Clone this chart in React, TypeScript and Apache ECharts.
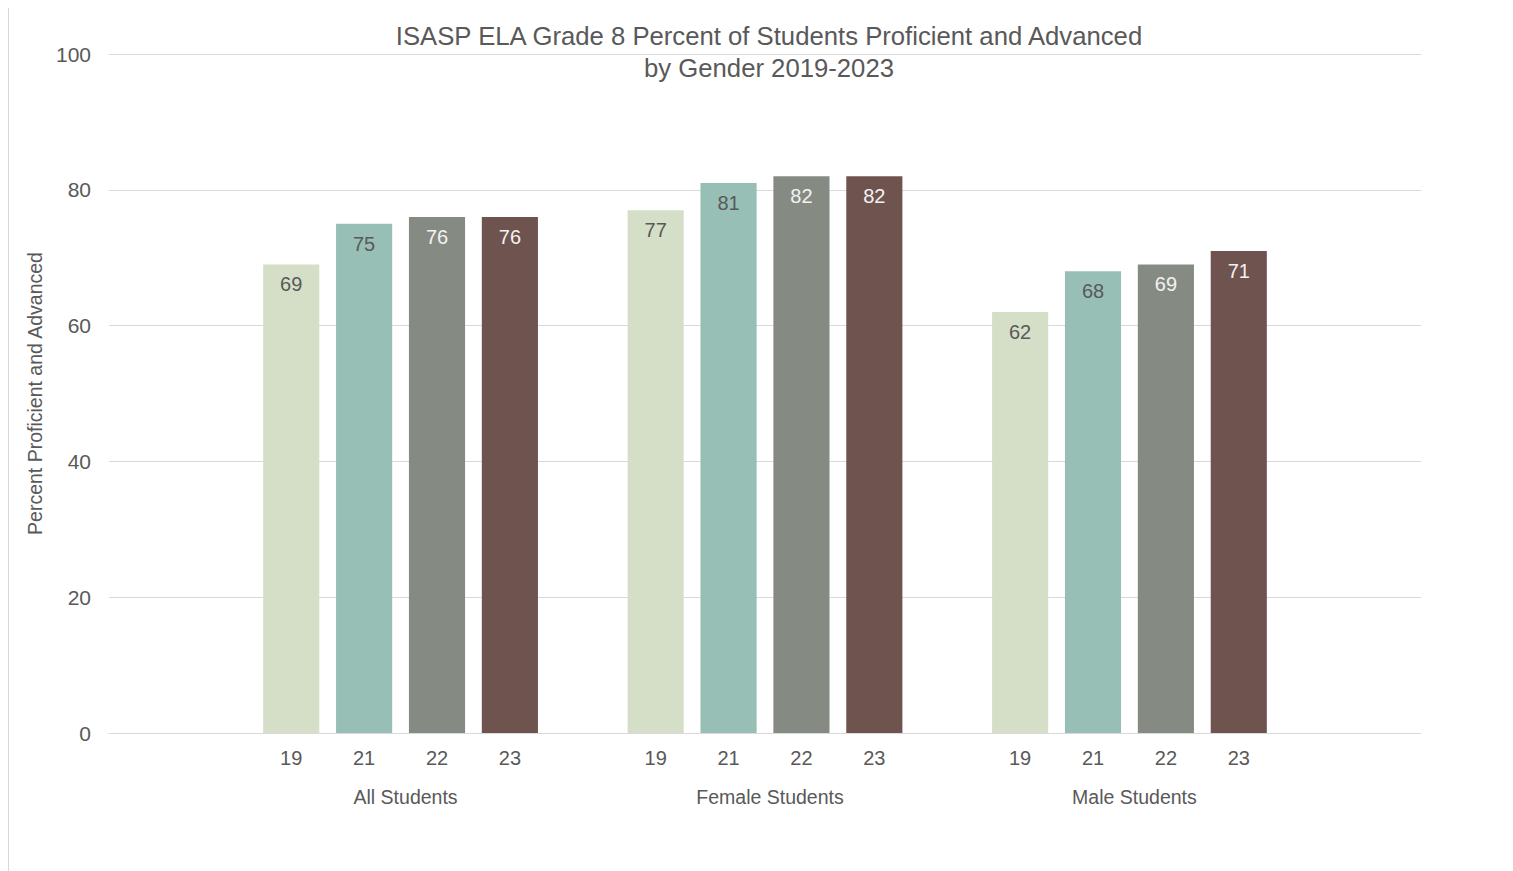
import React, { useEffect, useRef } from "react";
import * as echarts from "echarts";

const TITLE = "ISASP ELA Grade 8 Percent of Students Proficient and Advanced\nby Gender 2019-2023";
const Y_NAME = "Percent Proficient and Advanced";
const years = ["19", "21", "22", "23"];
const groups = ["All Students", "Female Students", "Male Students"];
const allStudents = [69, 75, 76, 76];
const femaleStudents = [77, 81, 82, 82];
const maleStudents = [62, 68, 69, 71];
const yTicks = [0, 20, 40, 60, 80, 100];

const barColors = ["#D5DFC7", "#97BFB5", "#858B83", "#6F534E"];
const labelColors = ["#595959", "#595959", "#F2F2F2", "#F2F2F2"];
const FONT = "'Liberation Sans', Arial, sans-serif";
const TEXT = "#595959";

export default function App() {
  const ref = useRef<HTMLDivElement>(null);
  useEffect(() => {
    document.body.style.overflow = "hidden";
    const chart = echarts.init(ref.current!, null, { renderer: "svg" });
    const seriesByGroup = [allStudents, femaleStudents, maleStudents];
    // Build 18 slots: 2 blank, 4 bars, 1 blank, 4 bars, 1 blank, 4 bars, 2 blank
    const cats: string[] = [];
    const data: any[] = [];
    const groupCenters: Record<number, string> = {};
    const pushBlank = () => {
      cats.push("");
      data.push(null);
    };
    pushBlank();
    pushBlank();
    seriesByGroup.forEach((vals, gi) => {
      if (gi > 0) pushBlank();
      const start = cats.length;
      vals.forEach((v, i) => {
        cats.push(years[i]);
        data.push({
          value: v,
          itemStyle: { color: barColors[i] },
          label: { color: labelColors[i] },
        });
      });
      groupCenters[start + vals.length / 2] = groups[gi];
    });
    pushBlank();
    pushBlank();
    const nSlots = cats.length;

    chart.setOption({
      animation: false,
      backgroundColor: "#ffffff",
      title: {
        text: TITLE,
        left: 755,
        textAlign: "center",
        top: 7,
        textStyle: {
          fontFamily: FONT,
          fontSize: 25.7,
          fontWeight: "normal",
          color: TEXT,
          lineHeight: 32,
        },
      },
      grid: { left: 100, top: 46, width: 1312, height: 679, containLabel: false },
      xAxis: [
        {
          type: "category",
          data: cats,
          axisLine: { show: true, lineStyle: { color: "#D9D9D9", width: 1 } },
          axisTick: { show: false },
          axisLabel: {
            interval: 0,
            margin: 15,
            fontFamily: FONT,
            fontSize: 20,
            color: TEXT,
          },
        },
        {
          type: "value",
          position: "bottom",
          min: 0,
          max: nSlots,
          interval: 1,
          axisLine: { show: false },
          axisTick: { show: false },
          splitLine: { show: false },
          axisLabel: {
            margin: 54,
            padding: [0, 0, 0, 10],
            fontFamily: FONT,
            fontSize: 19.5,
            color: TEXT,
            formatter: (v: number) => groupCenters[v] || "",
          },
        },
      ],
      yAxis: {
        type: "value",
        min: yTicks[0],
        max: yTicks[yTicks.length - 1],
        interval: yTicks[1] - yTicks[0],
        name: Y_NAME,
        nameLocation: "middle",
        nameGap: 57,
        nameTextStyle: { fontFamily: FONT, fontSize: 19.5, color: TEXT },
        axisLine: { show: false },
        axisTick: { show: false },
        splitLine: { lineStyle: { color: "#D9D9D9", width: 1 } },
        axisLabel: {
          margin: 18,
          fontFamily: FONT,
          fontSize: 21,
          color: TEXT,
        },
      },
      series: [
        {
          type: "bar",
          xAxisIndex: 0,
          data,
          barCategoryGap: "23%",
          label: {
            show: true,
            position: "insideTop",
            distance: 10,
            fontFamily: FONT,
            fontSize: 20,
          },
        },
      ],
    });
    return () => chart.dispose();
  }, []);

  return (
    <div
      style={{
        position: "relative",
        width: 1505,
        height: 864,
        marginTop: -1,
        borderTop: "1px solid #D9D9D9",
        borderLeft: "1px solid #D9D9D9",
        boxSizing: "border-box",
      }}
    >
      <div ref={ref} style={{ position: "absolute", left: 0, top: 0, width: 1504, height: 863 }} />
    </div>
  );
}
